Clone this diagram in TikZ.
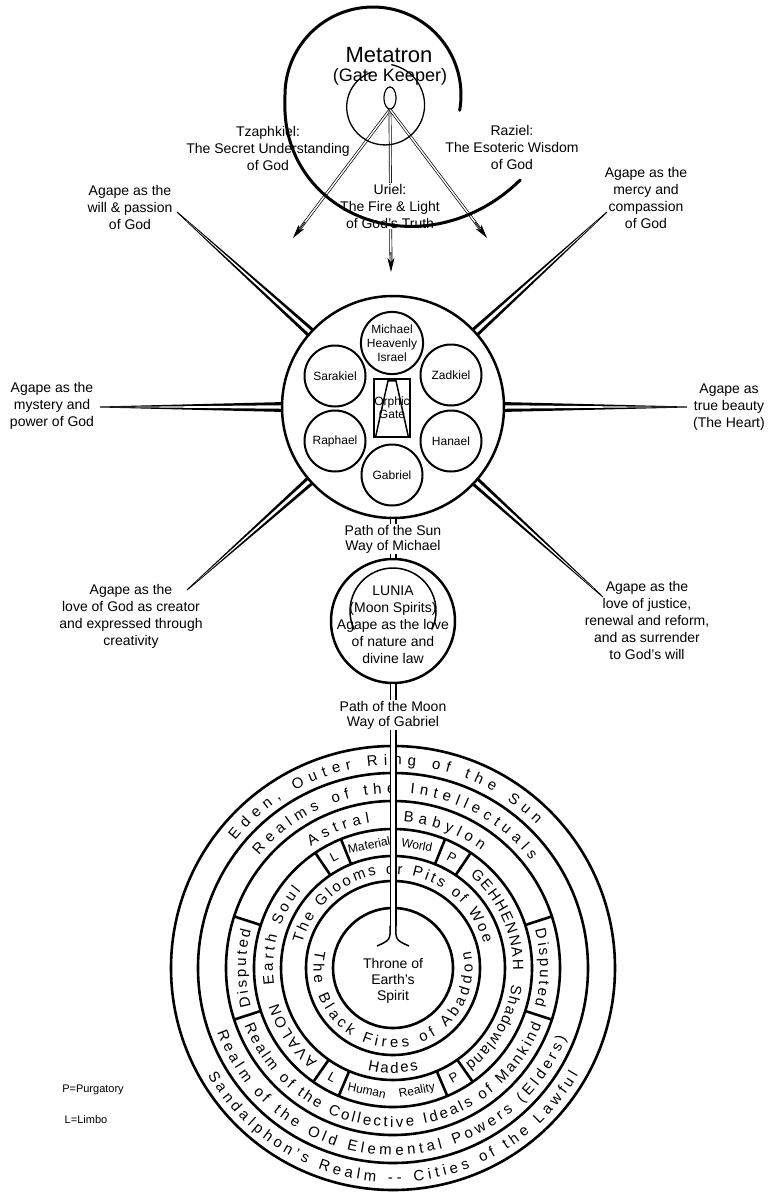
\documentclass[tikz,border=0pt]{standalone}
\usepackage{fontspec}
\setmainfont{Liberation Sans}
\usetikzlibrary{calc,arrows.meta,decorations.text,shapes.geometric}
\newcommand\ringfont{\fontsize{15}{15}\selectfont}
\begin{document}
\begin{tikzpicture}[x=1pt,y=1pt,
    declare function={sr(\t)=88+82*max(0,(\t-180)/150)*sqrt(max(0,(\t-180)/150));}]
  \tikzstyle{lbl}=[align=center,font=\fontsize{14}{17}\selectfont,inner sep=1pt]
  \tikzstyle{pathlbl}=[align=center,font=\fontsize{14}{15}\selectfont,inner sep=0.5pt,fill=white]
  \tikzstyle{angel}=[draw,circle,line width=2pt,minimum size=61pt,inner sep=0pt,align=center,font=\fontsize{12}{14}\selectfont]
  \tikzstyle{ring}=[line width=2.6pt]
  \tikzstyle{way}=[line width=1.5pt,double=white,double distance=4pt]
  \tikzstyle{shaft}=[line width=0.7pt,double=white,double distance=1.4pt,shorten >=10pt]
  \tikzstyle{head}=[line width=0.8pt,-{Stealth[length=14pt,width=7pt,inset=4pt]}]
  \tikzstyle{curved}=[decorate,decoration={text along path,text align=fit to path}]
  \tikzstyle{box}=[font=\fontsize{12}{12}\selectfont,inner sep=0pt]

  \useasboundingbox (0,0) rectangle (770,-1192);

  % Metatron
  \node[font=\fontsize{22}{22}\selectfont] (metatron) at (389,-55) {Metatron};
  \node[font=\fontsize{18}{18}\selectfont] (keeper) at (390,-77) {(Gate Keeper)};
  \node[draw,ellipse,fill=white,line width=1pt,minimum width=12pt,minimum height=22pt,inner sep=0pt] (eye) at (390,-98) {};

  \coordinate (tz) at (293,-238);
  \coordinate (ur) at (391,-272);
  \coordinate (rz) at (487,-238);
  \foreach \t in {tz,ur,rz} {
    \draw[shaft] (eye.south) -- (\t);
    \draw[head] ($(\t)!20pt!(eye.south)$) -- (\t);
  }

  \node[lbl] (tzaphkiel) at (268,-148) {Tzaphkiel:\\The Secret Understanding\\of God};
  \node[lbl] (raziel) at (512,-147) {Raziel:\\The Esoteric Wisdom\\of God};
  \node[lbl,fill=white] (uriel) at (390,-206) {Uriel:\\The Fire \& Light\\of God's Truth};

  \draw[line width=3pt,line cap=round] plot[domain=-10:330,samples=120,smooth]
    ({373+sr(\x)*cos(\x)},{-95+sr(\x)*sin(\x)});
  \draw[line width=1.3pt] plot[domain=110:440,samples=80,smooth]
    ({384+(36+(\x-110)/55)*cos(\x)},{-106+(36+(\x-110)/55)*sin(\x)});
  \node[draw,ellipse,fill=white,line width=1pt,minimum width=12pt,minimum height=22pt,inner sep=0pt] at (eye) {};

  % the hub and its rays
  \coordinate (hc) at (393,-407);
  \coordinate (tw) at (177,-212);
  \coordinate (tm) at (607,-212);
  \coordinate (tp) at (100,-407);
  \coordinate (tb) at (687,-407);
  \coordinate (tc) at (187,-590);
  \coordinate (tj) at (603,-597);
  \foreach \t in {tw,tm,tp,tb,tc,tj} {
    \coordinate (s) at ($(hc)!108pt!(\t)$);
    \fill ($(s)!5pt!90:(\t)$) -- ($(\t)!0.5pt!-90:(s)$) -- ($(\t)!0.5pt!90:(s)$) -- ($(s)!5pt!-90:(\t)$) -- cycle;
    \fill[white] ($(s)!1.8pt!90:(\t)$) -- ($(\t)!12pt!(s)$) -- ($(s)!1.8pt!-90:(\t)$) -- cycle;
  }

  \node[lbl] (will) at (130,-207) {Agape as the\\will \& passion\\of God};
  \node[lbl] (mercy) at (646,-198) {Agape as the\\mercy and\\compassion\\of God};
  \node[lbl] (mystery) at (52,-406) {Agape as the\\mystery and\\power of God};
  \node[lbl] (beauty) at (729,-407) {Agape as\\true beauty\\(The Heart)};
  \node[lbl] (creator) at (131,-616) {Agape as the\\love of God as creator\\and expressed through\\creativity};
  \node[lbl] (justice) at (647,-620) {Agape as the\\love of justice,\\renewal and reform,\\and as surrender\\to God's will};

  \node[draw,circle,line width=2.5pt,fill=white,minimum size=222pt,inner sep=0pt] (hub) at (hc) {};
  \node[angel] (michael) at (392,-343) {Michael\\Heavenly\\Israel};
  \node[angel] (sarakiel) at (335,-376) {Sarakiel};
  \node[angel] (zadkiel) at (451,-375) {Zadkiel};
  \node[angel] (raphael) at (335,-441) {Raphael};
  \node[angel] (hanael) at (451,-441) {Hanael};
  \node[angel] (gabriel) at (392,-475) {Gabriel};
  \node[draw,line width=2.5pt,minimum width=36pt,minimum height=58pt,inner sep=0pt,align=center,
        font=\fontsize{12}{13}\selectfont] (gate) at (392,-408) {Orphic\\Gate};
  \draw[line width=1.5pt] ($(gate.south west)+(3,2)$) -- ($(gate.north)+(-4,-3)$)
    -- ($(gate.north)+(4,-3)$) -- ($(gate.south east)+(-3,2)$);

  % Lunia
  \node[draw,circle,line width=2.5pt,minimum size=124pt,inner sep=0pt] (lunia) at (393,-621) {};
  \draw[line width=1.5pt,line cap=round] (393,-611) ++(205:43) arc[start angle=205,end angle=-25,radius=43];
  \node[lbl] (luniatext) at (393,-625) {LUNIA\\(Moon Spirits)\\Agape as the love\\of nature and\\divine law};
  \draw[way] (hub.south) -- (lunia.north);
  \node[pathlbl] (sunpath) at (393,-539) {Path of the Sun\\Way of Michael};

  % the rings
  \coordinate (rc) at (393,-968);
  \foreach \r in {60,87,112,139,167,195,222}
    \draw[ring] (rc) circle[radius=\r];
  \foreach \a in {162,198,18,-18}
    \draw[ring] (rc) ++(\a:139) -- ++(\a:28);
  \foreach \a in {56,68,112,124,235,247,293,305}
    \draw[ring] (rc) ++(\a:112) -- ++(\a:27);

  \path[curved,decoration={text={|\ringfont|Eden, Outer Ring of the Sun}}]
    (rc) ++(141:203) arc[start angle=141,end angle=45,radius=203];
  \path[curved,decoration={text={|\ringfont|Sandalphon's Realm -- Cities of the Lawful}}]
    (rc) ++(210:214) arc[start angle=210,end angle=330,radius=214];
  \path[curved,decoration={text={|\ringfont|Realms of the Intellectuals}}]
    (rc) ++(140:175) arc[start angle=140,end angle=38,radius=175];
  \path[curved,decoration={text={|\ringfont|Realm of the Old Elemental Powers (Elders)}}]
    (rc) ++(200:187) arc[start angle=200,end angle=338,radius=187];
  \path[curved,decoration={text={|\ringfont|Astral}}]
    (rc) ++(124:147) arc[start angle=124,end angle=99,radius=147];
  \path[curved,decoration={text={|\ringfont|Babylon}}]
    (rc) ++(86:147) arc[start angle=86,end angle=53,radius=147];
  \path[curved,decoration={text={|\ringfont|Realm of the Collective Ideals of Mankind}}]
    (rc) ++(201:159) arc[start angle=201,end angle=339,radius=159];
  \path[curved,decoration={text={|\ringfont|Disputed}}]
    (rc) ++(195:147) arc[start angle=195,end angle=165,radius=147];
  \path[curved,decoration={text={|\ringfont|Disputed}}]
    (rc) ++(15:147) arc[start angle=15,end angle=-15,radius=147];
  \path[curved,decoration={text={|\ringfont|Earth Soul}}]
    (rc) ++(188:120) arc[start angle=188,end angle=140,radius=120];
  \path[curved,decoration={text={|\ringfont|AVALON}}]
    (rc) ++(231:120) arc[start angle=231,end angle=197,radius=120];
  \path[curved,decoration={text={|\ringfont|GEHHENNAH}}]
    (rc) ++(50:120) arc[start angle=50,end angle=-1,radius=120];
  \path[curved,decoration={text={|\ringfont|Shadowland}}]
    (rc) ++(-8:120) arc[start angle=-8,end angle=-53,radius=120];
  \path[curved,decoration={text={|\ringfont|The Glooms or Pits of Woe}}]
    (rc) ++(165:94) arc[start angle=165,end angle=15,radius=94];
  \path[curved,decoration={text={|\ringfont|Hades}}]
    (rc) ++(256:105) arc[start angle=256,end angle=284,radius=105];
  \path[curved,decoration={text={|\ringfont|The Black Fires of Abaddon}}]
    (rc) ++(167:79.5) arc[start angle=167,end angle=372,radius=79.5];

  \node[box,font=\fontsize{13}{13}\selectfont,rotate=28] (ltop) at ($(rc)+(118:125.5)$) {L};
  \node[box,rotate=11] (material) at ($(rc)+(101:125.5)$) {Material};
  \node[box,rotate=-11] (world) at ($(rc)+(79:125.5)$) {World};
  \node[box,font=\fontsize{13}{13}\selectfont,rotate=-28] (ptop) at ($(rc)+(62:125.5)$) {P};
  \node[box,font=\fontsize{13}{13}\selectfont,rotate=-29] (lbot) at ($(rc)+(241:125.5)$) {L};
  \node[box,rotate=-12] (human) at ($(rc)+(258:125.5)$) {Human};
  \node[box,rotate=11] (reality) at ($(rc)+(281:125.5)$) {Reality};
  \node[box,font=\fontsize{13}{13}\selectfont,rotate=29] (pbot) at ($(rc)+(299:125.5)$) {P};

  % Path of the Moon down to the throne
  \coordinate (root) at (393,-926);
  \draw[way] (lunia.south) -- (root);
  \draw[line width=1.5pt] ($(root)+(-2.75,0.5)$) .. controls ($(root)+(-2.75,-14)$) .. ($(root)+(-16,-20)$);
  \draw[line width=1.5pt] ($(root)+(2.75,0.5)$) .. controls ($(root)+(2.75,-14)$) .. ($(root)+(16,-20)$);
  \node[pathlbl] (moonpath) at (393,-715) {Path of the Moon\\Way of Gabriel};
  \node[lbl,font=\fontsize{14}{16}\selectfont] (throne) at (393,-981) {Throne of\\Earth's\\Spirit};

  \node[font=\fontsize{11}{11}\selectfont] (purgatory) at (93,-1090) {P=Purgatory};
  \node[font=\fontsize{11}{11}\selectfont] (limbo) at (86,-1120) {L=Limbo};
\end{tikzpicture}
\end{document}
